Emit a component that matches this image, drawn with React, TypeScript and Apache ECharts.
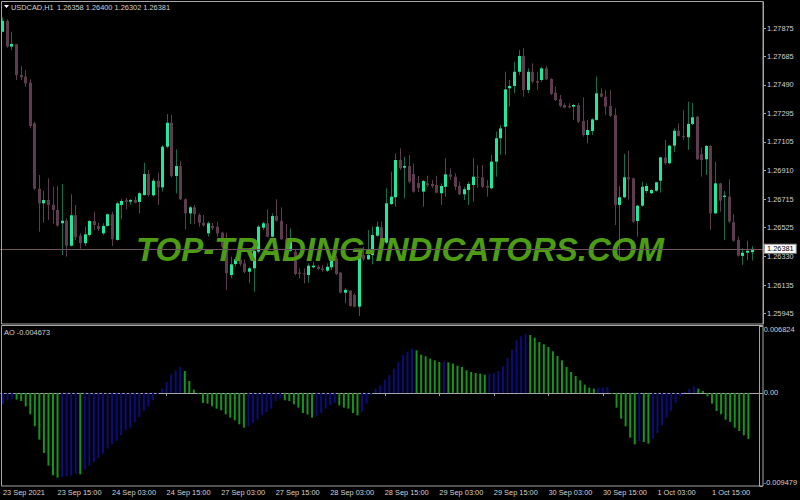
import React, { useEffect, useRef } from "react";
import * as echarts from "echarts";

const symbolName = "USDCAD,H1";
const tickLabels = [
  "23 Sep 2021", "23 Sep 15:00", "24 Sep 03:00", "24 Sep 15:00", "27 Sep 03:00",
  "27 Sep 15:00", "28 Sep 03:00", "28 Sep 15:00", "29 Sep 03:00", "29 Sep 15:00",
  "30 Sep 03:00", "30 Sep 15:00", "1 Oct 03:00", "1 Oct 15:00",
];
const barsPerLabel = 12;
const priceTicks = [1.27875, 1.27685, 1.2749, 1.27295, 1.27105, 1.2691, 1.26715, 1.26525, 1.2633, 1.26135, 1.25945];
const aoTicks = [0.006824, 0, -0.009479];

const opens = [
  1.27850, 1.27924, 1.27749, 1.27765, 1.27557, 1.27546, 1.27505, 1.27230, 1.26788, 1.26689,
  1.26711, 1.26678, 1.26644, 1.26554, 1.26571, 1.26402, 1.26608, 1.26470, 1.26419, 1.26475,
  1.26569, 1.26536, 1.26486, 1.26536, 1.26615, 1.26441, 1.26678, 1.26711, 1.26700, 1.26711,
  1.26698, 1.26745, 1.26887, 1.26743, 1.26842, 1.26797, 1.27072, 1.27234, 1.26874, 1.26941,
  1.26716, 1.26621, 1.26662, 1.26610, 1.26558, 1.26486, 1.26536, 1.26531, 1.26490, 1.26396,
  1.26204, 1.26278, 1.26310, 1.26283, 1.26226, 1.26249, 1.26362, 1.26524, 1.26554, 1.26463,
  1.26603, 1.26571, 1.26446, 1.26368, 1.26362, 1.26220, 1.26216, 1.26204, 1.26256, 1.26260,
  1.26249, 1.26233, 1.26256, 1.26317, 1.26220, 1.26084, 1.26098, 1.26069, 1.25990, 1.26339,
  1.26310, 1.26339, 1.26470, 1.26527, 1.26423, 1.26684, 1.26730, 1.26982, 1.26930, 1.26941,
  1.26887, 1.26826, 1.26768, 1.26824, 1.26820, 1.26813, 1.26757, 1.26801, 1.26885, 1.26869,
  1.26806, 1.26750, 1.26779, 1.26813, 1.26869, 1.26865, 1.26806, 1.26791, 1.26971, 1.27129,
  1.27207, 1.27467, 1.27483, 1.27579, 1.27686, 1.27456, 1.27579, 1.27516, 1.27523, 1.27602,
  1.27530, 1.27437, 1.27393, 1.27354, 1.27347, 1.27343, 1.27354, 1.27246, 1.27151, 1.27178,
  1.27253, 1.27433, 1.27410, 1.27347, 1.27286, 1.26678, 1.26730, 1.26865, 1.26858, 1.26569,
  1.26673, 1.26772, 1.26757, 1.26774, 1.26842, 1.27000, 1.26960, 1.27079, 1.27180, 1.27144,
  1.27136, 1.27226, 1.27275, 1.27021, 1.26987, 1.27077, 1.26621, 1.26824, 1.26732, 1.26734,
  1.26561, 1.26441, 1.26333, 1.26355, 1.26358,
];
const highs = [
  1.27947, 1.27934, 1.27850, 1.27767, 1.27618, 1.27591, 1.27528, 1.27241, 1.26881, 1.26774,
  1.26858, 1.26801, 1.26806, 1.26820, 1.26588, 1.26750, 1.26678, 1.26486, 1.26531, 1.26576,
  1.26632, 1.26558, 1.26554, 1.26621, 1.26632, 1.26696, 1.26718, 1.26727, 1.26718, 1.26734,
  1.26768, 1.26964, 1.26914, 1.26858, 1.26896, 1.27083, 1.27293, 1.27286, 1.27054, 1.26977,
  1.26723, 1.26671, 1.26678, 1.26621, 1.26610, 1.26565, 1.26556, 1.26565, 1.26497, 1.26488,
  1.26328, 1.26328, 1.26333, 1.26310, 1.26260, 1.26373, 1.26542, 1.26565, 1.26649, 1.26621,
  1.26716, 1.26662, 1.26549, 1.26520, 1.26380, 1.26249, 1.26249, 1.26283, 1.26294, 1.26272,
  1.26272, 1.26283, 1.26328, 1.26333, 1.26224, 1.26114, 1.26103, 1.26080, 1.26351, 1.26396,
  1.26508, 1.26531, 1.26565, 1.26565, 1.26791, 1.26903, 1.27027, 1.27061, 1.27004, 1.27016,
  1.26960, 1.26874, 1.26847, 1.26876, 1.26847, 1.26876, 1.26824, 1.26994, 1.26926, 1.26892,
  1.26835, 1.26801, 1.26835, 1.26994, 1.26948, 1.26948, 1.26847, 1.27016, 1.27174, 1.27219,
  1.27579, 1.27523, 1.27647, 1.27726, 1.27738, 1.27602, 1.27636, 1.27579, 1.27613, 1.27618,
  1.27535, 1.27478, 1.27422, 1.27366, 1.27366, 1.27361, 1.27368, 1.27406, 1.27253, 1.27264,
  1.27546, 1.27467, 1.27456, 1.27456, 1.27332, 1.26806, 1.27023, 1.27045, 1.26862, 1.26678,
  1.26835, 1.26824, 1.26784, 1.26835, 1.27004, 1.27117, 1.27083, 1.27196, 1.27230, 1.27320,
  1.27376, 1.27366, 1.27280, 1.27068, 1.27083, 1.27083, 1.26971, 1.26828, 1.26772, 1.26851,
  1.26617, 1.26463, 1.26385, 1.26436, 1.26400,
];
const lows = [
  1.27846, 1.27742, 1.27726, 1.27523, 1.27523, 1.27478, 1.27197, 1.26779, 1.26497, 1.26558,
  1.26576, 1.26549, 1.26531, 1.26339, 1.26328, 1.26398, 1.26441, 1.26382, 1.26400, 1.26463,
  1.26508, 1.26502, 1.26475, 1.26531, 1.26400, 1.26436, 1.26581, 1.26649, 1.26678, 1.26689,
  1.26621, 1.26740, 1.26734, 1.26734, 1.26678, 1.26768, 1.27061, 1.26865, 1.26757, 1.26711,
  1.26513, 1.26549, 1.26549, 1.26531, 1.26531, 1.26463, 1.26508, 1.26463, 1.26387, 1.26103,
  1.26182, 1.26260, 1.26265, 1.26216, 1.26148, 1.26091, 1.26351, 1.26508, 1.26459, 1.26459,
  1.26565, 1.26441, 1.26385, 1.26362, 1.26204, 1.26182, 1.26148, 1.26152, 1.26249, 1.26238,
  1.26226, 1.26224, 1.26238, 1.26204, 1.26080, 1.26013, 1.25990, 1.25986, 1.25927, 1.26301,
  1.26306, 1.26276, 1.26463, 1.26419, 1.26414, 1.26678, 1.26666, 1.26914, 1.26723, 1.26824,
  1.26761, 1.26766, 1.26666, 1.26799, 1.26793, 1.26757, 1.26678, 1.26734, 1.26847, 1.26779,
  1.26745, 1.26711, 1.26678, 1.26700, 1.26793, 1.26791, 1.26734, 1.26784, 1.26869, 1.27016,
  1.27016, 1.27343, 1.27433, 1.27557, 1.27410, 1.27433, 1.27501, 1.27456, 1.27512, 1.27523,
  1.27422, 1.27381, 1.27339, 1.27332, 1.27332, 1.27253, 1.27232, 1.27140, 1.27095, 1.27151,
  1.27248, 1.27406, 1.27286, 1.27273, 1.26542, 1.26290, 1.26723, 1.26711, 1.26554, 1.26463,
  1.26666, 1.26757, 1.26752, 1.26768, 1.26761, 1.26948, 1.26955, 1.27038, 1.27140, 1.27117,
  1.27050, 1.27219, 1.26982, 1.26869, 1.26881, 1.26508, 1.26617, 1.26632, 1.26441, 1.26554,
  1.26429, 1.26328, 1.26272, 1.26305, 1.26302,
];
const closes = [
  1.27924, 1.27749, 1.27767, 1.27557, 1.27542, 1.27501, 1.27212, 1.26788, 1.26689, 1.26711,
  1.26678, 1.26644, 1.26538, 1.26571, 1.26402, 1.26608, 1.26459, 1.26419, 1.26479, 1.26569,
  1.26542, 1.26515, 1.26536, 1.26615, 1.26446, 1.26689, 1.26705, 1.26700, 1.26711, 1.26693,
  1.26757, 1.26887, 1.26745, 1.26842, 1.26797, 1.27072, 1.27234, 1.26874, 1.26941, 1.26716,
  1.26621, 1.26662, 1.26617, 1.26558, 1.26540, 1.26554, 1.26520, 1.26486, 1.26396, 1.26216,
  1.26276, 1.26310, 1.26278, 1.26226, 1.26249, 1.26366, 1.26531, 1.26554, 1.26463, 1.26603,
  1.26571, 1.26446, 1.26396, 1.26429, 1.26211, 1.26211, 1.26209, 1.26267, 1.26267, 1.26245,
  1.26238, 1.26260, 1.26317, 1.26211, 1.26084, 1.26103, 1.25994, 1.25990, 1.26339, 1.26310,
  1.26339, 1.26475, 1.26531, 1.26423, 1.26689, 1.26734, 1.26982, 1.26926, 1.26941, 1.26835,
  1.26768, 1.26793, 1.26840, 1.26811, 1.26806, 1.26761, 1.26806, 1.26885, 1.26869, 1.26801,
  1.26750, 1.26784, 1.26820, 1.26869, 1.26865, 1.26801, 1.26795, 1.26971, 1.27129, 1.27196,
  1.27460, 1.27483, 1.27579, 1.27686, 1.27456, 1.27579, 1.27512, 1.27505, 1.27602, 1.27528,
  1.27429, 1.27388, 1.27347, 1.27336, 1.27339, 1.27354, 1.27241, 1.27151, 1.27185, 1.27257,
  1.27433, 1.27410, 1.27343, 1.27280, 1.26678, 1.26730, 1.26865, 1.26851, 1.26565, 1.26673,
  1.26801, 1.26806, 1.26779, 1.26831, 1.27000, 1.26960, 1.27079, 1.27180, 1.27144, 1.27136,
  1.27226, 1.27271, 1.26987, 1.26982, 1.27077, 1.26621, 1.26824, 1.26707, 1.26741, 1.26565,
  1.26436, 1.26335, 1.26355, 1.26368, 1.26381,
];
const aoValues = [
  -0.001155, -0.000747, -0.000577, -0.000679, -0.000815, -0.001359, -0.002174, -0.003397, -0.004756, -0.006115,
  -0.007405, -0.008391, -0.008628, -0.008560, -0.008492, -0.008425, -0.008221, -0.008289, -0.007813, -0.007405,
  -0.007032, -0.006590, -0.006183, -0.005673, -0.005231, -0.004892, -0.004314, -0.003805, -0.003533, -0.002955,
  -0.002446, -0.001834, -0.001359, -0.000747, -0.000136, 0.000442, 0.001121, 0.001902, 0.002310, 0.002650,
  0.002242, 0.001223, 0.000340, -0.000136, -0.001019, -0.001087, -0.001359, -0.001597, -0.001766, -0.002174,
  -0.002514, -0.002786, -0.003193, -0.003533, -0.003397, -0.003057, -0.002718, -0.002276, -0.001936, -0.001597,
  -0.000815, -0.000577, -0.000747, -0.000815, -0.001155, -0.001495, -0.002038, -0.002208, -0.002514, -0.002378,
  -0.002038, -0.001597, -0.001257, -0.001019, -0.001257, -0.001495, -0.001597, -0.002038, -0.002276, -0.001936,
  -0.001087, -0.000238, 0.000442, 0.000781, 0.001359, 0.001800, 0.002480, 0.003159, 0.003839, 0.004178,
  0.004518, 0.004348, 0.003907, 0.003737, 0.003499, 0.003329, 0.003159, 0.003227, 0.003125, 0.002989,
  0.002786, 0.002650, 0.002310, 0.002140, 0.002038, 0.001970, 0.001868, 0.001970, 0.002038, 0.002242,
  0.002718, 0.003601, 0.004416, 0.005367, 0.005775, 0.005979, 0.005911, 0.005639, 0.005197, 0.004960,
  0.004688, 0.004246, 0.003771, 0.003329, 0.002650, 0.002140, 0.001732, 0.001291, 0.000849, 0.000544,
  0.000442, 0.000510, 0.000544, 0.000611, -0.000102, -0.001495, -0.002616, -0.003397, -0.004552, -0.005231,
  -0.004892, -0.004994, -0.005163, -0.004654, -0.004076, -0.003295, -0.002514, -0.001834, -0.001019, -0.000340,
  0.000102, 0.000442, 0.000679, 0.000442, 0.000204, -0.000340, -0.001087, -0.001834, -0.002174, -0.002718,
  -0.002955, -0.003533, -0.003873, -0.004314, -0.004673,
];

const BULL_BODY = "#1de9a0";
const BULL_WICK = "#0e7050";
const BEAR = "#5c3c4e";
const AO_UP = "#0c0c7c";
const AO_DOWN = "#15961a";
const FRAME = "#a6a6a6";
const TEXT = "#d2d2d2";
const FONT = "'Liberation Sans', Arial, sans-serif";
const FS = 7.4;

export default function App() {
  const ref = useRef<HTMLDivElement>(null);
  useEffect(() => {
    if (!ref.current) return;
    const chart = echarts.init(ref.current, undefined, { renderer: "svg" });
    const n = opens.length;
    const last = n - 1;
    const categories = Array.from({ length: n + 2 }, (_, i) => String(i));
    const candleData = opens.map((o, i) => [i, o, closes[i], lows[i], highs[i]]);
    const showTick = (idx: number) => idx % barsPerLabel === 0 && idx < n;

    chart.setOption({
      animation: false,
      backgroundColor: "#000",
      grid: [
        { left: 0, top: 2, width: 763, height: 322 },
        { left: 0, top: 326, width: 763, height: 160 },
      ],
      xAxis: [
        {
          type: "category", gridIndex: 0, data: categories, boundaryGap: true,
          axisLine: { show: false }, axisTick: { show: false }, axisLabel: { show: false }, splitLine: { show: false },
        },
        {
          type: "category", gridIndex: 1, data: categories, boundaryGap: true,
          axisLine: { show: true, lineStyle: { color: FRAME, width: 1 } },
          axisTick: { show: true, interval: (idx: number) => showTick(idx), alignWithLabel: true, length: 3, lineStyle: { color: FRAME } },
          axisLabel: {
            show: true, interval: (idx: number) => showTick(idx), align: "left", margin: 3,
            color: TEXT, fontSize: FS, fontFamily: FONT,
            formatter: (v: string) => tickLabels[Number(v) / barsPerLabel] ?? "",
          },
          splitLine: { show: false },
        },
      ],
      yAxis: [
        {
          type: "value", gridIndex: 0, position: "right", min: 1.258725, max: 1.280509,
          axisLine: { show: true, lineStyle: { color: FRAME } },
          axisTick: { show: true, length: 3, customValues: priceTicks, lineStyle: { color: FRAME } },
          axisLabel: {
            show: true, customValues: priceTicks, margin: 4, color: TEXT, fontSize: FS, fontFamily: FONT,
            formatter: (v: number) => v.toFixed(5),
          },
          splitLine: { show: false },
        },
        {
          type: "value", gridIndex: 1, position: "right", min: aoTicks[2], max: aoTicks[0],
          axisLine: { show: true, lineStyle: { color: FRAME } },
          axisTick: { show: true, length: 3, customValues: aoTicks, lineStyle: { color: FRAME } },
          axisLabel: {
            show: true, customValues: aoTicks, margin: 4, color: TEXT, fontSize: FS, fontFamily: FONT,
            verticalAlignMaxLabel: "bottom", verticalAlignMinLabel: "top",
            formatter: (v: number) => (v === 0 ? "0.00" : v.toFixed(6)),
          },
          splitLine: { show: false },
        },
      ],
      series: [
        {
          type: "custom", xAxisIndex: 0, yAxisIndex: 0, z: 2,
          data: candleData,
          encode: { x: 0, y: [1, 2, 3, 4] },
          renderItem: (_p: any, api: any) => {
            const i = api.value(0);
            const o = api.value(1), c = api.value(2), l = api.value(3), h = api.value(4);
            const pH = api.coord([i, h]);
            const pL = api.coord([i, l]);
            const pO = api.coord([i, o]);
            const pC = api.coord([i, c]);
            const x = Math.round(pH[0]) + 0.5;
            const bull = c >= o;
            const top = Math.min(pO[1], pC[1]);
            const bot = Math.max(pO[1], pC[1]);
            return {
              type: "group",
              children: [
                { type: "line", shape: { x1: x, y1: pH[1], x2: x, y2: pL[1] }, style: { stroke: bull ? BULL_WICK : BEAR, lineWidth: 1 } },
                { type: "rect", shape: { x: x - 1.5, y: top, width: 3, height: Math.max(1, bot - top) }, style: { fill: bull ? BULL_BODY : BEAR } },
              ],
            };
          },
          markLine: {
            silent: true, symbol: "none", animation: false, z: 4, precision: 5,
            lineStyle: { color: "#6e5363", type: "solid", width: 1 },
            label: {
              show: true, position: "end", distance: 2,
              formatter: () => closes[last].toFixed(5),
              color: "#000", backgroundColor: "#fff", borderColor: "#999", borderWidth: 1,
              padding: [1, 2, 0, 2], fontSize: FS, fontFamily: FONT,
            },
            data: [{ yAxis: closes[last] }],
          },
        },
        {
          type: "bar", xAxisIndex: 1, yAxisIndex: 1, barWidth: 2, z: 2,
          data: aoValues,
          itemStyle: {
            color: (p: any) => (p.dataIndex === 0 || aoValues[p.dataIndex] > aoValues[p.dataIndex - 1] ? AO_UP : AO_DOWN),
          },
        },
      ],
      graphic: [
        { type: "rect", z: 10, silent: true, shape: { x: 1.5, y: 1.5, width: 761.5, height: 322.5 }, style: { fill: "none", stroke: FRAME, lineWidth: 1 } },
        { type: "rect", z: 10, silent: true, shape: { x: 1.5, y: 325.5, width: 761.5, height: 160.5 }, style: { fill: "none", stroke: FRAME, lineWidth: 1 } },
        { type: "polygon", z: 10, silent: true, shape: { points: [[4, 5], [9, 5], [6.5, 8]] }, style: { fill: "#fff" } },
        { type: "text", z: 10, silent: true, x: 11, y: 7, style: { text: symbolName, fill: TEXT, font: `${FS}px ${FONT}`, textVerticalAlign: "middle" } },
        {
          type: "text", z: 10, silent: true, x: 57, y: 7,
          style: {
            text: [opens[last], highs[last], lows[last], closes[last]].map((v) => v.toFixed(5)).join(" "),
            fill: TEXT, font: `${FS}px ${FONT}`, textVerticalAlign: "middle",
          },
        },
        { type: "text", z: 10, silent: true, x: 4, y: 332, style: { text: "AO " + aoValues[last].toFixed(6), fill: TEXT, font: `${FS}px ${FONT}`, textVerticalAlign: "middle" } },
        {
          type: "text", z: 3, silent: true, x: 400, y: 249,
          style: {
            text: "TOP-TRADING-INDICATORS.COM", fill: "#4c9c14",
            font: `italic bold 33px 'Liberation Sans', Arial, sans-serif`,
            textAlign: "center", textVerticalAlign: "middle",
          },
        },
      ],
    });
    return () => chart.dispose();
  }, []);
  return <div ref={ref} style={{ position: "fixed", left: 0, top: 0, width: 800, height: 500, background: "#000" }} />;
}
